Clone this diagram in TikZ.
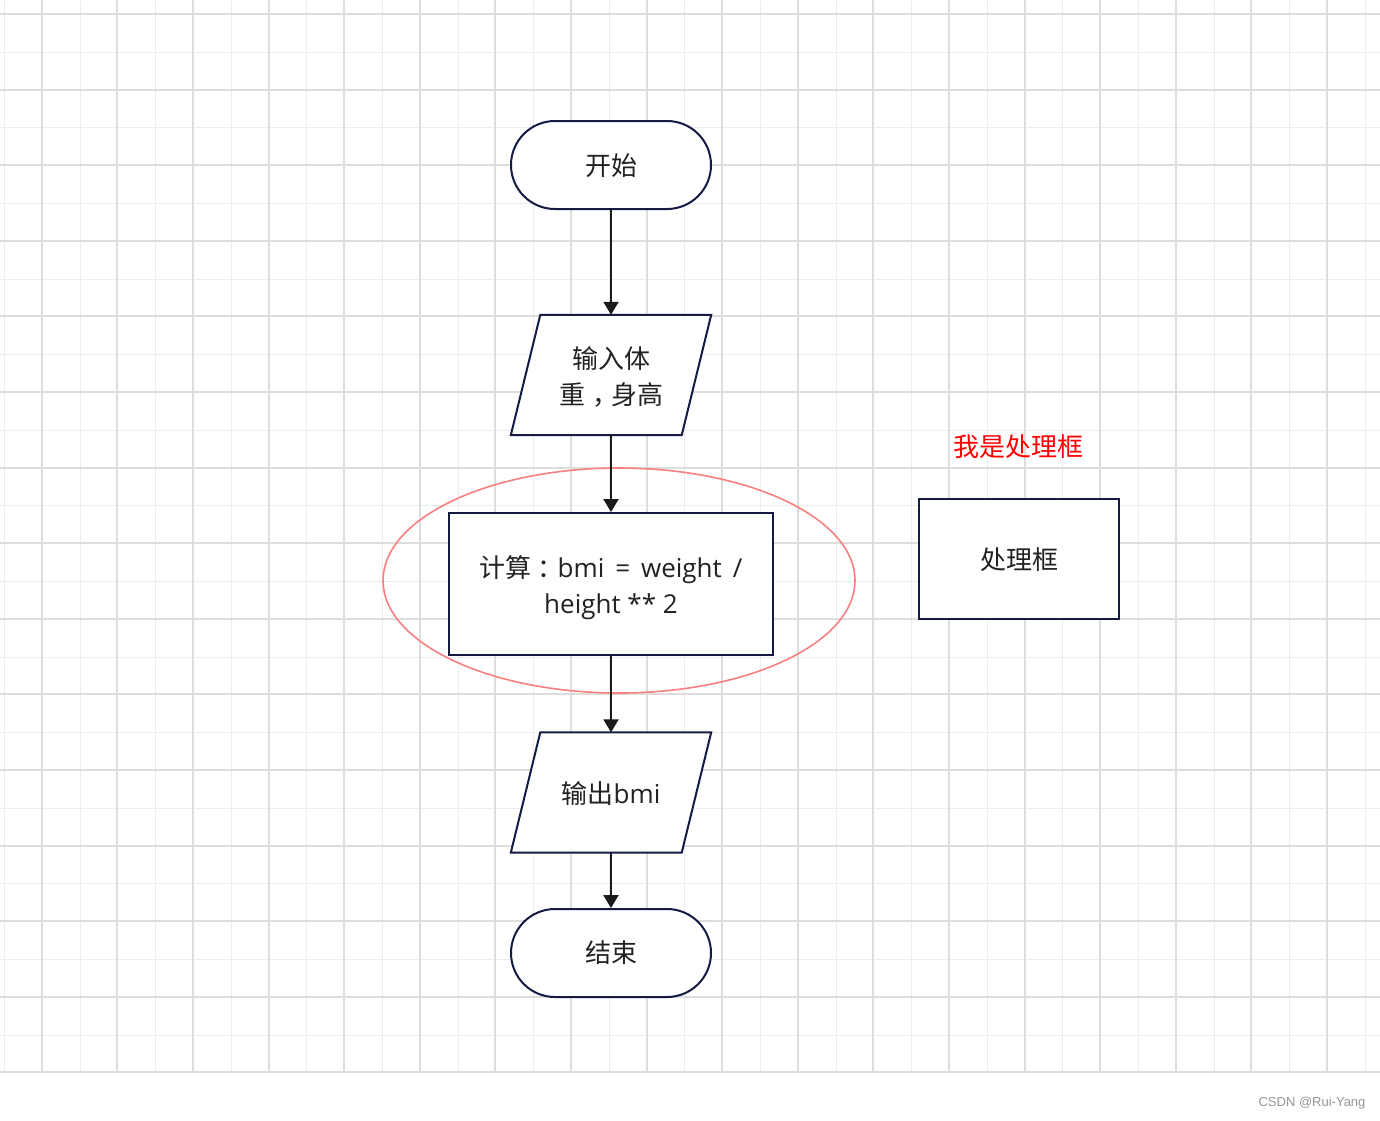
\documentclass[tikz,border=0pt]{standalone}
\usepackage{fontspec}
\setmainfont{Noto Sans CJK SC}
\newfontfamily\lat{Open Sans}
\newfontfamily\wmfont{Liberation Sans}
\usetikzlibrary{arrows.meta}
\pgfdeclarelayer{gridlayer}
\pgfdeclarelayer{shapelayer}
\pgfsetlayers{gridlayer,shapelayer,main}
\definecolor{gridDark}{RGB}{221,221,221}
\definecolor{gridLight}{RGB}{236,236,236}
\definecolor{navy}{RGB}{22,27,68}
\definecolor{arrowCol}{RGB}{26,26,26}
\definecolor{txtCol}{RGB}{34,34,34}
\definecolor{salmon}{RGB}{248,128,128}
\definecolor{wmCol}{RGB}{150,150,150}
\newcommand{\cpunct}[1]{\hspace{0.3em}#1\hspace{-0.3em}}
\newcommand{\cpunctb}[1]{\hspace{0.22em}#1\hspace{-0.22em}}
\newcommand{\wsp}{\hspace{0.42em}}
\tikzset{
  base/.style={draw=navy, line width=2pt, fill=white, text=txtCol, align=center,
    font=\fontsize{26}{36}\selectfont, inner sep=2pt},
  terminal/.style={base, rectangle, rounded corners=44pt, minimum width=200pt, minimum height=88pt},
  iotext/.style={rectangle, text=txtCol, align=center, font=\fontsize{26}{36}\selectfont,
    inner sep=0pt, minimum width=200pt, minimum height=120pt},
  ioshape/.style={draw=navy, line width=2pt, fill=white, line join=miter},
  procbox/.style={base, rectangle},
  arr/.style={draw=arrowCol, line width=2pt, -{Triangle[length=13pt,width=15pt]}},
  hiliteshape/.style={draw=salmon, line width=1.6pt},
  gl/.style={gridLight, line width=1.2pt},
  gd/.style={gridDark, line width=2pt},
}
\newcommand{\drawIO}[1]{%
  \begin{pgfonlayer}{shapelayer}
    \draw[ioshape] ([xshift=29.5pt]#1.north west) -- (#1.north east)
      -- ([xshift=-29.5pt]#1.south east) -- (#1.south west) -- cycle;
  \end{pgfonlayer}}
\begin{document}
\begin{tikzpicture}[x=1pt,y=-1pt]
\useasboundingbox (0,0) rectangle (1380,1120);
\begin{pgfonlayer}{gridlayer}
\fill[white] (0,0) rectangle (1380,1120);
\foreach \j in {0,2,...,36} { \draw[gl] ({round(4+37.8*\j)+0.5},0) -- ({round(4+37.8*\j)+0.5},1072); }
\foreach \i in {1,3,...,27} { \draw[gl] (0,{round(14+37.8*\i)+0.5}) -- (1380,{round(14+37.8*\i)+0.5}); }
\foreach \j in {1,3,...,35} { \draw[gd] ({round(4+37.8*\j)},0) -- ({round(4+37.8*\j)},1072); }
\foreach \i in {0,2,...,28} { \draw[gd] (0,{round(14+37.8*\i)}) -- (1380,{round(14+37.8*\i)}); }
% highlight ellipse
\draw[hiliteshape] (619,580.5) ellipse [x radius=236, y radius=112.5];
\end{pgfonlayer}

% flowchart nodes
\node[terminal] (start) at (611,165) {\rule{0pt}{23pt}开始};
\node[iotext] (in) at (611,375) {\rule{0pt}{25pt}输入体\\重\cpunct{，}身高};
\drawIO{in}
\node[procbox, minimum width=324pt, minimum height=142pt] (calc) at (611,584)
  {\rule{0pt}{29pt}计算\cpunctb{：}{\lat bmi\wsp=\wsp weight\wsp/}\\{\lat height ** 2}};
\node[iotext] (out) at (611,792.5) {\rule{0pt}{24pt}输出{\lat bmi}};
\drawIO{out}
\node[terminal] (stop) at (611,953) {结束};

% side box
\node[procbox, minimum width=200pt, minimum height=120pt] (proc) at (1019,559) {\rule{0pt}{24pt}处理框};
\node[text=red, font=\fontsize{26}{36}\selectfont, inner sep=0pt] (lbl) at (1018,447) {我是处理框};

% connectors
\draw[arr] (start) -- (in);
\draw[arr] (in) -- (calc);
\draw[arr] (calc) -- (out);
\draw[arr] (out) -- (stop);

% watermark
\node[text=wmCol, font=\wmfont\fontsize{13}{15}\selectfont, inner sep=0pt] (wm) at (1312,1103) {CSDN @Rui-Yang};
\end{tikzpicture}
\end{document}
